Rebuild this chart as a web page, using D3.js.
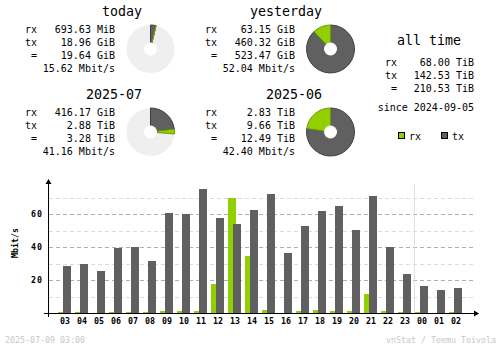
<!DOCTYPE html>
<html><head><meta charset="utf-8">
<script src="https://cdn.jsdelivr.net/npm/d3@7"></script>
<style>
html,body{margin:0;padding:0;background:#fff;}
svg{display:block;}
text{font-family:"DejaVu Sans Mono",monospace;fill:#000;}
</style></head>
<body>
<svg id="c" width="500" height="348"></svg>
<script>
// ---- summary data ----
const periodTitles = ["today", "yesterday", "2025-07", "2025-06"];
const periodRx = ["693.63 MiB", "63.15 GiB", "416.17 GiB", "2.83 TiB"];
const periodTx = ["18.96 GiB", "460.32 GiB", "2.88 TiB", "9.66 TiB"];
const periodTotal = ["19.64 GiB", "523.47 GiB", "3.28 TiB", "12.49 TiB"];
const periodRate = ["15.62 Mbit/s", "52.04 Mbit/s", "41.16 Mbit/s", "42.40 Mbit/s"];
// same values in GiB for the donuts
const periodRxGiB = [0.6774, 63.15, 416.17, 2897.92];
const periodTxGiB = [18.96, 460.32, 2949.12, 9891.84];

const allTimeLabels = ["rx", "tx", " ="];
const allTimeValues = ["68.00 TiB", "142.53 TiB", "210.53 TiB"];
const sinceText = "since 2024-09-05";

// ---- hourly data (Mbit/s) ----
const hours = ["03","04","05","06","07","08","09","10","11","12","13","14","15","16","17","18","19","20","21","22","23","00","01","02"];
const rxRate = [0.6,0.6,0.0,0.6,0.6,0.6,1.3,1.2,1.2,17.8,69.9,34.7,1.8,0.4,1.2,1.8,1.2,1.2,11.7,1.2,0.6,0.6,0.0,0.6];
const txRate = [28.8,29.9,25.6,39.8,40.2,31.7,60.8,60.2,75.3,57.8,54.1,62.6,72.3,36.5,52.9,62.0,65.0,50.5,71.1,40.2,23.8,16.5,14.1,15.3];
const yTicks = [20, 40, 60];
const yMinorTicks = [10, 30, 50, 70];
const footerDate = "2025-07-09 03:00";
const footerCredit = "vnStat / Teemu Toivola";

const C = {rx:"#92cf00", tx:"#606060", rxd:"#6b9a00", txd:"#404040", bgoff:"#efefef",
           line:"#b0b0b0", lineL:"#dcdcdc", foot:"#c8c8c8"};

const svg = d3.select("#c");

// ---- summary blocks ----
const blockX = [0, 180, 0, 180];
const blockY = [0, 0, 83, 83];
const arc = d3.arc();
periodTitles.forEach((t, i) => {
  const g = svg.append("g").attr("transform", `translate(${blockX[i]},${blockY[i]})`);
  g.append("text").attr("x", 142).attr("y", 15.5).attr("text-anchor", "end")
    .style("font-size", "13.3px").text(t);
  const labels = ["rx", "tx", "="];
  const lx = [25, 25, 31];
  const vals = [periodRx[i], periodTx[i], periodTotal[i]];
  labels.forEach((l, j) => {
    g.append("text").attr("x", lx[j]).attr("y", 33 + 13 * j).style("font-size", "10px").text(l);
    g.append("text").attr("x", 115).attr("y", 33 + 13 * j).attr("text-anchor", "end")
      .style("font-size", "10px").text(vals[j]);
  });
  g.append("text").attr("x", 115).attr("y", 72).attr("text-anchor", "end")
    .style("font-size", "10px").text(periodRate[i]);

  // donut
  const pair = i < 2 ? [0, 1] : [2, 3];
  const max = d3.max(pair, k => periodRxGiB[k] + periodTxGiB[k]);
  const frac = d3.scaleLinear().domain([0, max]).range([0, 2 * Math.PI]);
  const txA = frac(periodTxGiB[i]);
  const rxA = frac(periodRxGiB[i]);
  const dg = g.append("g").attr("transform", `translate(150.5,49)`);
  const R = 24, r0 = 6.5;
  if (txA + rxA < 2 * Math.PI - 1e-6) {
    dg.append("circle").attr("r", R).attr("fill", C.bgoff);
  }
  dg.append("path").attr("d", arc({innerRadius: 0, outerRadius: R, startAngle: 0, endAngle: txA}))
    .attr("fill", C.tx).attr("stroke", C.txd).attr("stroke-width", 1);
  if (rxA > 0.001) {
    dg.append("path").attr("d", arc({innerRadius: 0, outerRadius: R, startAngle: txA, endAngle: txA + rxA}))
      .attr("fill", C.rx).attr("stroke", C.rxd).attr("stroke-width", 1);
  }
  dg.append("circle").attr("r", r0).attr("fill", "#fff");
});

// ---- all time ----
svg.append("text").attr("x", 429).attr("y", 44.5).attr("text-anchor", "middle")
  .style("font-size", "13.3px").text("all time");
allTimeLabels.forEach((l, j) => {
  svg.append("text").attr("x", 385).attr("y", 66 + 13 * j).style("font-size", "10px")
    .attr("xml:space", "preserve").style("white-space", "pre").text(l);
  svg.append("text").attr("x", 474).attr("y", 66 + 13 * j).attr("text-anchor", "end")
    .style("font-size", "10px").text(allTimeValues[j]);
});
svg.append("text").attr("x", 474).attr("y", 111).attr("text-anchor", "end")
  .style("font-size", "10px").text(sinceText);
// legend
[["rx", C.rx, C.rxd, 398], ["tx", C.tx, C.txd, 441]].forEach(([n, f, s, x]) => {
  svg.append("rect").attr("x", x + 0.5).attr("y", 132.5).attr("width", 6).attr("height", 6)
    .attr("fill", f).attr("stroke", "#000").attr("stroke-width", 1);
  svg.append("text").attr("x", x + 11).attr("y", 139.5).style("font-size", "10px").text(n);
});

// ---- hourly chart ----
const y = d3.scaleLinear().domain([0, 70]).range([313.3, 197.8]);
const x = d3.scaleBand().domain(hours).range([56.5, 464.5]).padding(0);
const cx = h => x(h) + x.bandwidth() / 2;

// gridlines
const grid = svg.append("g");
yMinorTicks.forEach(v => {
  grid.append("line").attr("x1", 49).attr("x2", 473).attr("y1", Math.round(y(v)) + 0.5).attr("y2", Math.round(y(v)) + 0.5)
    .attr("stroke", C.lineL).attr("stroke-dasharray", "4,3");
});
yTicks.forEach(v => {
  grid.append("line").attr("x1", 49).attr("x2", 473).attr("y1", Math.round(y(v)) + 0.5).attr("y2", Math.round(y(v)) + 0.5)
    .attr("stroke", C.line).attr("stroke-dasharray", "4,3");
});
// day separator
const sepX = (cx("23") + cx("00")) / 2;
svg.append("line").attr("x1", Math.round(sepX) + 0.5).attr("x2", Math.round(sepX) + 0.5)
  .attr("y1", 184).attr("y2", 313).attr("stroke", "#e0e0e0");

// bars
const bars = svg.append("g").attr("shape-rendering", "crispEdges");
hours.forEach((h, i) => {
  const c = cx(h);
  if (rxRate[i] > 0) {
    bars.append("rect").attr("x", c - 7).attr("width", 8)
      .attr("y", y(rxRate[i])).attr("height", y(0) - y(rxRate[i])).attr("fill", C.rx);
  }
  bars.append("rect").attr("x", c - 2).attr("width", 8)
    .attr("y", y(txRate[i])).attr("height", y(0) - y(txRate[i])).attr("fill", C.tx);
});

// axes
const ax = svg.append("g").attr("shape-rendering", "crispEdges");
ax.append("line").attr("x1", 44).attr("x2", 476).attr("y1", 313.5).attr("y2", 313.5).attr("stroke", "#000");
ax.append("line").attr("x1", 48.5).attr("x2", 48.5).attr("y1", 181).attr("y2", 317).attr("stroke", "#000");
svg.append("path").attr("d", "M48.5,179 L45.5,184 L51.5,184 Z").attr("fill", "#000");
svg.append("path").attr("d", "M479,313.5 L474,310.5 L474,316.5 Z").attr("fill", "#000");

yTicks.forEach(v => {
  svg.append("text").attr("x", 43).attr("y", y(v) + 3).attr("text-anchor", "end")
    .style("font-size", "8.3px").style("font-weight", "bold").style("letter-spacing", "1px").text(v);
});
hours.forEach(h => {
  svg.append("text").attr("x", cx(h)).attr("y", 323.5).attr("text-anchor", "middle")
    .style("font-size", "8.3px").style("font-weight", "bold").text(h);
});
svg.append("text").attr("transform", "translate(18,243) rotate(-90)").attr("text-anchor", "middle")
  .style("font-size", "8.3px").style("font-weight", "bold").text("Mbit/s");

// footer
svg.append("text").attr("x", 5).attr("y", 342.5).style("font-size", "8.3px").style("fill", C.foot).text(footerDate);
svg.append("text").attr("x", 496).attr("y", 342.5).attr("text-anchor", "end").style("font-size", "8.3px")
  .style("fill", C.foot).text(footerCredit);
</script>
</body></html>
